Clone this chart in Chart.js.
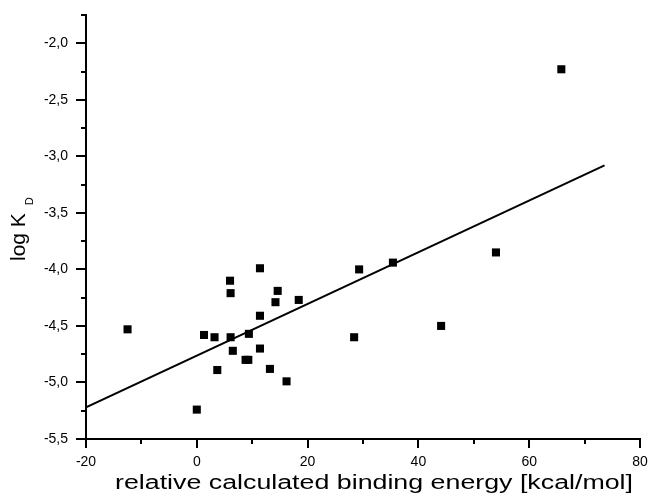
<!DOCTYPE html>
<html>
<head>
<meta charset="utf-8">
<script src="https://cdn.jsdelivr.net/npm/chart.js@4/dist/chart.umd.min.js"></script>
<style>
  html, body { margin: 0; padding: 0; background: #fff; }
</style>
</head>
<body>
<canvas id="kdChart" width="648" height="500"></canvas>
<script>
// measured points: relative binding energy vs log KD
const energies = [-12.5, 0.0, 1.3, 3.2, 3.7, 6.0, 6.1, 6.1, 6.5, 8.8, 9.3, 9.4, 11.4, 11.4, 11.4,
  13.2, 14.6, 14.2, 16.2, 18.4, 28.4, 29.3, 35.4, 44.1, 54.0, 65.8];
const logKd = [-4.53, -5.24, -4.58, -4.60, -4.89, -4.10, -4.21, -4.60, -4.72, -4.80, -4.80, -4.57, -3.99, -4.41, -4.70,
  -4.88, -4.19, -4.29, -4.99, -4.27, -4.60, -4.00, -3.94, -4.50, -3.85, -2.23];

// linear fit, end points
const fitX = [-20, 73.6];
const fitY = [-5.22, -3.08];

const xTicks = [-20, 0, 20, 40, 60, 80];
const yTicks = [-5.5, -5.0, -4.5, -4.0, -3.5, -3.0, -2.5, -2.0];
const yTop = -1.75;

const xTitle = 'relative calculated binding energy [kcal/mol]';

const FONT = '"Liberation Sans", Arial, sans-serif';

// minor ticks, outward tick marks and the two axis titles
const axisExtras = {
  id: 'axisExtras',
  afterDraw(chart) {
    const ctx = chart.ctx;
    const xs = chart.scales.x;
    const ys = chart.scales.y;
    const area = chart.chartArea;
    ctx.save();
    ctx.strokeStyle = '#000';
    ctx.lineWidth = 2;
    ctx.beginPath();
    xTicks.forEach((v, i) => {
      const px = Math.round(xs.getPixelForValue(v));
      ctx.moveTo(px, area.bottom);
      ctx.lineTo(px, area.bottom + 9);
      if (i < xTicks.length - 1) {
        const mx = Math.round(xs.getPixelForValue((v + xTicks[i + 1]) / 2));
        ctx.moveTo(mx, area.bottom);
        ctx.lineTo(mx, area.bottom + 5);
      }
    });
    yTicks.forEach((v, i) => {
      const py = Math.round(ys.getPixelForValue(v));
      ctx.moveTo(area.left, py);
      ctx.lineTo(area.left - 10, py);
      const next = i < yTicks.length - 1 ? yTicks[i + 1] : yTop + 0.25;
      const my = Math.round(ys.getPixelForValue((v + next) / 2));
      ctx.moveTo(area.left, my);
      ctx.lineTo(area.left - 5, my);
    });
    ctx.stroke();
    ctx.fillStyle = '#000';

    // x title, a little wider than the font, as in the original
    ctx.save();
    ctx.font = '20px ' + FONT;
    ctx.textAlign = 'center';
    ctx.textBaseline = 'alphabetic';
    const tw = ctx.measureText(xTitle).width;
    ctx.translate(374, 489);
    ctx.scale(518 / tw, 1);
    ctx.fillText(xTitle, 0, 0);
    ctx.restore();

    // y title: log K with subscript D
    ctx.translate(25, 261);
    ctx.rotate(-Math.PI / 2);
    ctx.textAlign = 'left';
    ctx.textBaseline = 'alphabetic';
    ctx.font = '21px ' + FONT;
    ctx.fillText('log K', 0, 0);
    const w = ctx.measureText('log K').width;
    ctx.font = '11px ' + FONT;
    ctx.fillText('D', w + 8, 8);
    ctx.restore();
  }
};

new Chart(document.getElementById('kdChart'), {
  data: {
    datasets: [
      {
        type: 'scatter',
        data: energies.map((e, i) => ({ x: e, y: logKd[i] })),
        pointStyle: 'rect',
        pointRadius: 5.7,
        pointBorderWidth: 0,
        backgroundColor: '#000',
        borderColor: '#000'
      },
      {
        type: 'line',
        data: fitX.map((e, i) => ({ x: e, y: fitY[i] })),
        borderColor: '#000',
        borderWidth: 2,
        pointRadius: 0,
        fill: false
      }
    ]
  },
  options: {
    responsive: false,
    animation: false,
    layout: { padding: { left: 0, right: 8, top: 15, bottom: 0 } },
    plugins: {
      legend: { display: false },
      tooltip: { enabled: false }
    },
    scales: {
      x: {
        type: 'linear',
        min: -20,
        max: 80,
        afterBuildTicks: s => { s.ticks = xTicks.map(v => ({ value: v })); },
        afterFit: s => { s.height = 61; s.paddingLeft = 0; s.paddingRight = 0; },
        grid: { display: false },
        border: { display: true, color: '#000', width: 2 },
        ticks: {
          padding: 7,
          color: '#000',
          maxRotation: 0,
          font: { family: FONT, size: 14 },
          callback: v => String(v)
        }
      },
      y: {
        type: 'linear',
        min: -5.5,
        max: yTop,
        afterBuildTicks: s => { s.ticks = yTicks.map(v => ({ value: v })); },
        afterFit: s => { s.width = 86; s.paddingTop = 0; s.paddingBottom = 0; },
        grid: { display: false },
        border: { display: true, color: '#000', width: 2 },
        ticks: {
          padding: 10,
          color: '#000',
          font: { family: FONT, size: 14 },
          callback: v => v.toFixed(1).replace('.', ',')
        }
      }
    }
  },
  plugins: [axisExtras]
});
</script>
</body>
</html>
